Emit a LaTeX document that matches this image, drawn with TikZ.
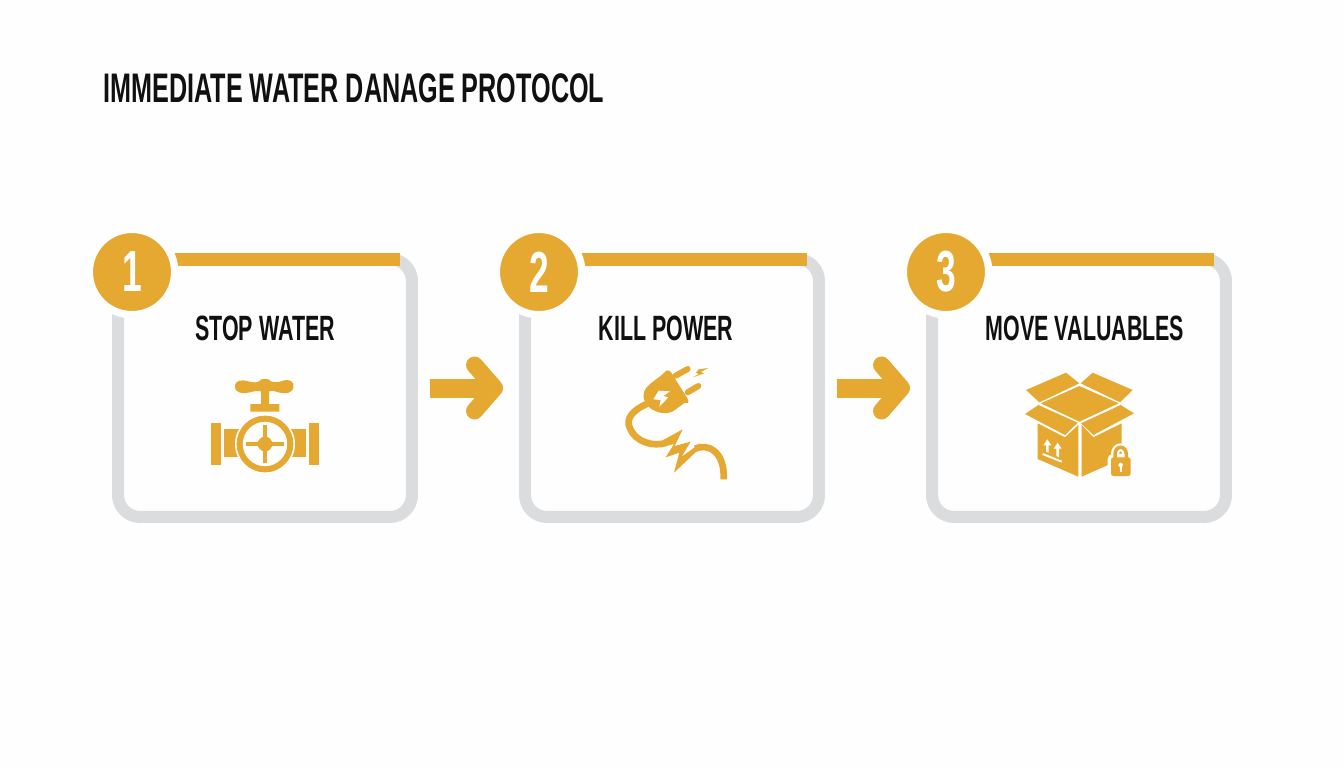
\documentclass[tikz,border=0pt]{standalone}
\usepackage{fontspec}
\usetikzlibrary{arrows.meta}
\newfontfamily\posterFont{Liberation Sans}[FakeStretch=0.61]

\definecolor{goldAccent}{HTML}{E5A830}
\definecolor{cardGrey}{HTML}{DADCDD}
\definecolor{pageWhite}{HTML}{FEFEFE}
\definecolor{inkBlack}{HTML}{101010}

\tikzset{
  card/.style={draw=cardGrey, line width=0.24cm, rounded corners=0.44cm, inner sep=0, outer sep=0,
    minimum width=5.88cm, minimum height=5.16cm},
  topBar/.style={draw=goldAccent, line width=0.26cm},
  badge/.style={circle, fill=goldAccent, draw=pageWhite, line width=0.15cm, minimum size=1.71cm,
    inner sep=0, outer sep=0, text=white, font=\posterFont\bfseries\fontsize{33}{33}\selectfont},
  stepLabel/.style={inner sep=0, text=inkBlack, font=\posterFont\bfseries\fontsize{20}{20}\selectfont},
  heading/.style={inner sep=0, anchor=west, text=inkBlack, font=\posterFont\bfseries\fontsize{23.5}{24}\selectfont},
  stepArrow/.style={draw=goldAccent, line width=0.38cm, shorten <=0.36cm, shorten >=0.44cm,
    -{Straight Barb[length=0.4cm, width=0.92cm, line width=0.34cm, round]}},
  icon/.style={x=0.00667cm, y=-0.00667cm},
  iconFill/.style={fill=goldAccent},
  cordLine/.style={draw=goldAccent, line width=0.133cm}
}

\begin{document}
\begin{tikzpicture}[x=0.02cm, y=-0.02cm]

\fill[pageWhite] (0,0) rectangle (1344,768);
\useasboundingbox (0,0) rectangle (1344,768);

\node[heading] (title) at (103,88) {IMMEDIATE WATER DANAGE PROTOCOL};

\node[card] (stopWater) at (265,388) {};
\node[card] (killPower) at (672,388) {};
\node[card] (moveValuables) at (1079,388) {};

\draw[topBar] ([xshift=1cm]stopWater.north west) -- ([xshift=-0.24cm]stopWater.north east);
\draw[topBar] ([xshift=1cm]killPower.north west) -- ([xshift=-0.24cm]killPower.north east);
\draw[topBar] ([xshift=1cm]moveValuables.north west) -- ([xshift=-0.24cm]moveValuables.north east);

\node[badge] (badgeOne) at (132,272) {1};
\node[badge] (badgeTwo) at (539,272) {2};
\node[badge] (badgeThree) at (946,272) {3};

\node[stepLabel] (labelOne) at (265,328) {STOP WATER};
\node[stepLabel] (labelTwo) at (666,328) {KILL POWER};
\node[stepLabel] (labelThree) at (1085,328) {MOVE VALUABLES};

\draw[stepArrow] (stopWater) -- (killPower);
\draw[stepArrow] (killPower) -- (moveValuables);

\begin{scope}[shift={(190,360)}, icon]
\fill[iconFill] (135,80) .. controls (135,60) and (155,58) .. (175,64) .. controls (190,68) and (200,68) .. (207,64)
  .. controls (212,54) and (238,54) .. (243,64) .. controls (250,68) and (265,68) .. (280,62)
  .. controls (300,56) and (314,66) .. (310,82) .. controls (306,102) and (285,102) .. (265,97)
  .. controls (250,92) .. (237,94) -- (237,132) -- (268,132) -- (268,155) -- (181,155) -- (181,132)
  -- (213,132) -- (213,94) .. controls (200,92) .. (180,97) .. controls (160,102) and (135,100) .. (135,80) -- cycle;
\fill[iconFill] (64,188) rectangle (92,315);
\fill[iconFill] (358,188) rectangle (386,315);
\fill[iconFill] (102,208) rectangle (150,290);
\fill[iconFill] (300,208) rectangle (348,290);
\fill[pageWhite] (225,252) circle[radius=90];
\draw[goldAccent, line width=0.12cm] (225,252) circle[radius=76];
\draw[goldAccent, line width=0.08cm] (168,252) -- (282,252) (225,195) -- (225,309);
\fill[iconFill] (225,252) circle[radius=22];
\end{scope}

\begin{scope}[shift={(600,360)}, icon]
\draw[cordLine] (140,132) .. controls (100,150) and (75,175) .. (90,205) .. controls (105,245) and (160,262) .. (200,248);
\fill[iconFill] (190,240) -- (248,208) -- (224,258) -- (272,245) -- (245,290) -- (290,258) -- (292,272) -- (222,338)
  -- (238,278) -- (197,292) -- (222,252) -- (190,260) -- cycle;
\draw[cordLine] (285,266) .. controls (320,250) and (375,270) .. (371,358);
\fill[iconFill] (193,38) .. controls (198,28) and (208,30) .. (214,38) -- (264,118) .. controls (268,128) and (262,132) .. (254,128)
  -- (225,150) .. controls (205,165) and (170,162) .. (145,140) .. controls (128,125) and (125,100) .. (140,82)
  .. controls (155,65) and (175,55) .. (193,38) -- cycle;
\draw[cordLine, line width=0.12cm, line cap=round] (227,47) -- (263,27);
\draw[cordLine, line width=0.12cm, line cap=round] (263,97) -- (295,78);
\fill[pageWhite] (176,92) -- (210,94) -- (190,108) -- (205,112) -- (178,140) -- (182,120) -- (160,118) -- cycle;
\fill[iconFill] (296,28) -- (325,24) -- (303,36) -- (312,40) -- (278,52) -- (296,42) -- (288,38) -- cycle;
\end{scope}

\begin{scope}[shift={(1010,360)}, icon]
\fill[iconFill] (48,90) -- (168,38) -- (208,70) -- (88,127) -- cycle;
\fill[iconFill] (248,38) -- (368,90) -- (330,127) -- (212,70) -- cycle;
\fill[iconFill] (208,78) -- (326,130) -- (208,185) -- (92,130) -- cycle;
\fill[iconFill] (45,162) -- (85,135) -- (203,188) -- (165,225) -- cycle;
\fill[iconFill] (372,160) -- (332,135) -- (213,190) -- (250,225) -- cycle;
\fill[iconFill] (83,190) -- (165,232) -- (205,195) -- (205,350) -- (83,297) -- cycle;
\fill[iconFill] (215,195) -- (250,232) -- (335,190) -- (335,297) -- (215,350) -- cycle;
\fill[pageWhite] (112,238) -- (124,256) -- (116,256) -- (116,278) -- (108,275) -- (108,256) -- (100,256) -- cycle;
\fill[pageWhite] (143,248) -- (155,266) -- (147,266) -- (147,292) -- (139,288) -- (139,266) -- (131,266) -- cycle;
\draw[pageWhite, line width=0.04cm] (98,282) -- (155,305);
\fill[pageWhite, rounded corners=0.1cm] (293,282) rectangle (372,358);
\draw[pageWhite, line width=0.16cm] (315,292) -- (315,283) .. controls (315,255) and (349,255) .. (349,283) -- (349,292);
\draw[goldAccent, line width=0.07cm] (315,295) -- (315,283) .. controls (315,255) and (349,255) .. (349,283) -- (349,295);
\fill[iconFill, rounded corners=0.05cm] (303,292) rectangle (362,348);
\fill[pageWhite] (332,315) circle[radius=7];
\fill[pageWhite] (329,315) rectangle (335,335);
\end{scope}

\end{tikzpicture}
\end{document}
